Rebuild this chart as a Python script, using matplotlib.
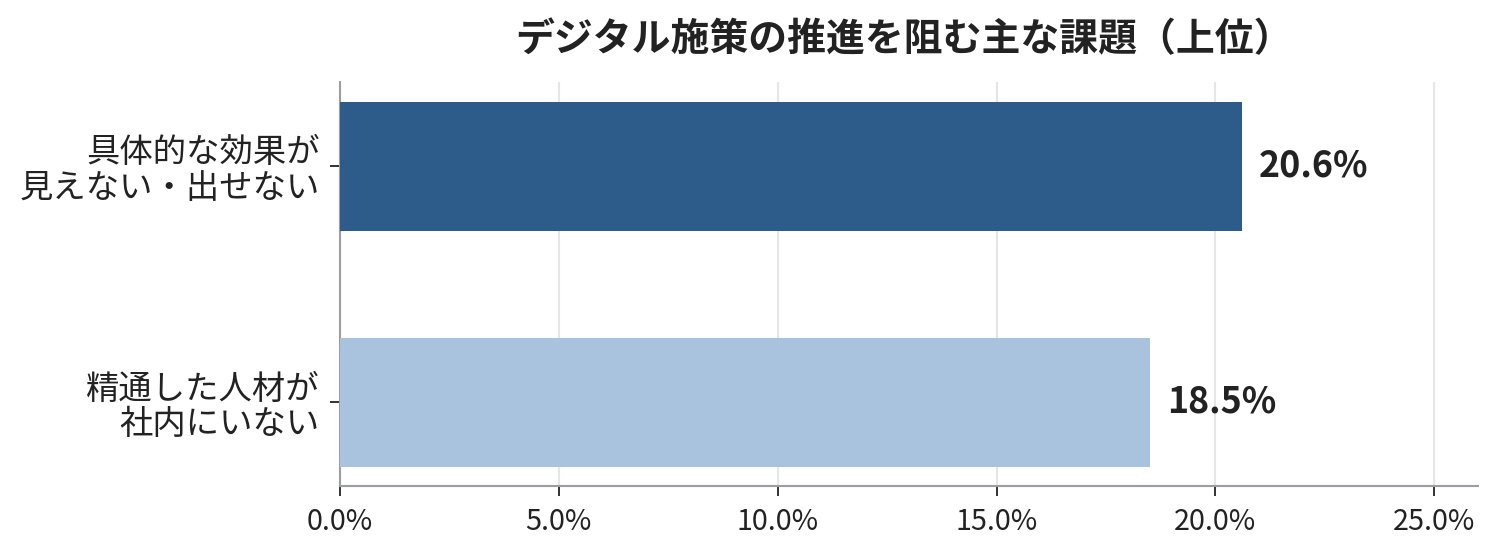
import matplotlib
matplotlib.use("Agg")
import matplotlib.pyplot as plt
from matplotlib.ticker import FuncFormatter

plt.rcParams['font.family'] = ['Noto Sans CJK JP', 'DejaVu Sans']

categories = ["精通した人材が\n社内にいない", "具体的な効果が\n見えない・出せない"]
values = [18.5, 20.6]
colors = ["#A9C3DE", "#2E5C8A"]
xticks = [0, 5, 10, 15, 20, 25]
title = "デジタル施策の推進を阻む主な課題（上位）"

fig = plt.figure(figsize=(15.02, 5.6), dpi=100)
ax = fig.add_axes([340/1502, 1-486/560, (1478-340)/1502, (486-82)/560])

ypos = list(range(len(categories)))
ax.barh(ypos, values, height=0.55, color=colors, zorder=3)
for y, v in zip(ypos, values):
    ax.text(v + 0.4, y, f"{v:.1f}%", va="center", ha="left", fontsize=25.8,
            fontweight="bold", color="#222222", zorder=4)

ax.set_xlim(0, 26)
ax.set_ylim(-0.354, 1.358)
ax.set_xticks(xticks)
ax.xaxis.set_major_formatter(FuncFormatter(lambda x, p: f"{x:.1f}%"))
ax.set_yticks(ypos)
ax.set_yticklabels(categories, fontsize=24.0, linespacing=1.02)
ax.tick_params(axis="x", labelsize=20.7, colors="#222222", length=7, width=1.3, pad=8)
ax.tick_params(axis="y", colors="#222222", length=7, width=1.3, pad=7.5)
for lab in ax.get_xticklabels() + ax.get_yticklabels():
    lab.set_color("#222222")

ax.grid(axis="x", color="#E6E6E6", linewidth=1.5, zorder=0)
ax.set_axisbelow(True)
for s in ["top", "right"]:
    ax.spines[s].set_visible(False)
for s in ["left", "bottom"]:
    ax.spines[s].set_color("#9A9EA3")
    ax.spines[s].set_linewidth(1.5)

fig.text(904/1502, 1-40/560, title, ha="center", va="center", fontsize=28.0,
         fontweight="bold", color="#222222")

fig.savefig("out.png", dpi=100, facecolor="white")
